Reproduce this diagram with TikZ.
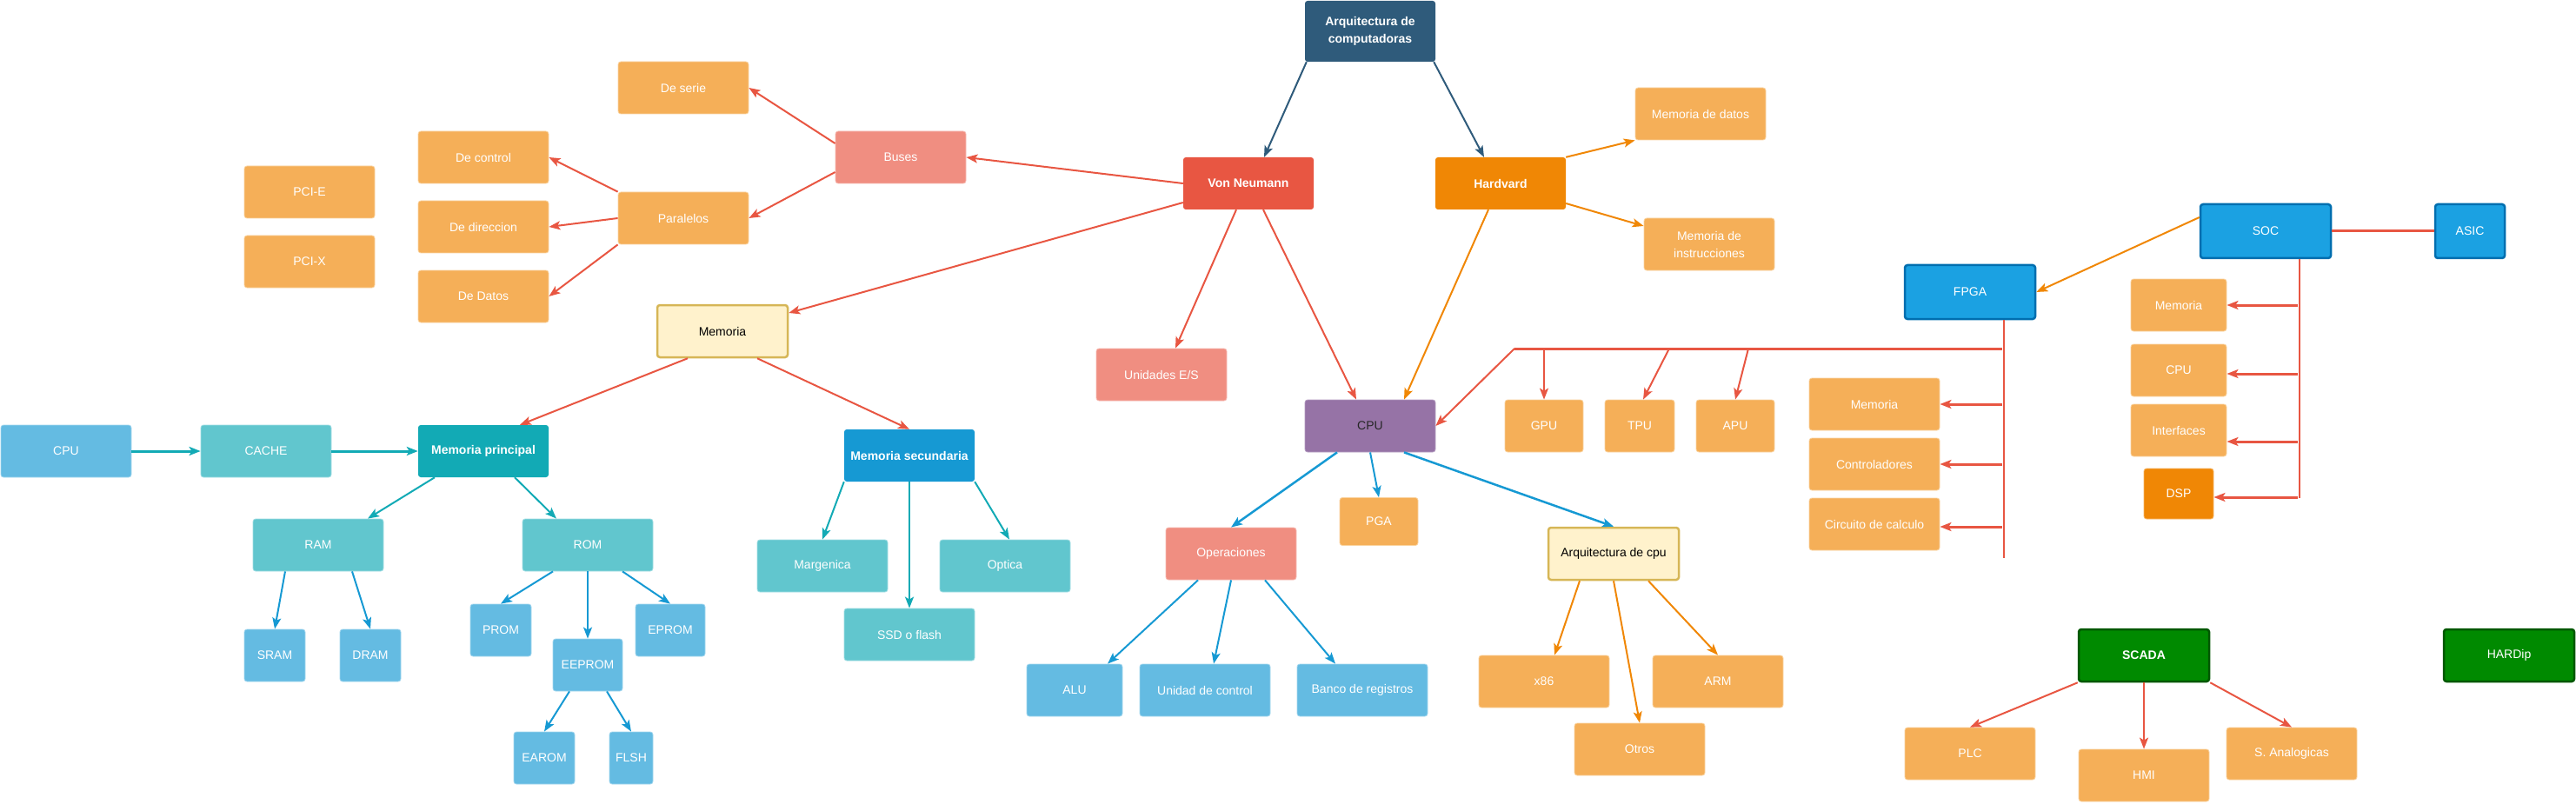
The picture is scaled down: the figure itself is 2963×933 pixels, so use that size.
\documentclass[tikz,border=0pt]{standalone}
\usepackage{fontspec}
\setmainfont{Liberation Sans}
\usetikzlibrary{arrows.meta,calc}
\definecolor{cTop}{HTML}{2F5B7B}
\definecolor{cRed}{HTML}{E85642}
\definecolor{cHv}{HTML}{F08705}
\definecolor{cOr}{HTML}{F5AF58}
\definecolor{cOrL}{HTML}{FAD3A0}
\definecolor{cSal}{HTML}{F08E81}
\definecolor{cPur}{HTML}{9673A6}
\definecolor{cLB}{HTML}{64BBE2}
\definecolor{cTL}{HTML}{61C6CE}
\definecolor{cTD}{HTML}{12AAB5}
\definecolor{cMS}{HTML}{1699D3}
\definecolor{cSoc}{HTML}{1BA1E2}
\definecolor{cSocB}{HTML}{006EAF}
\definecolor{cGr}{HTML}{008A00}
\definecolor{cGrB}{HTML}{005700}
\definecolor{cYel}{HTML}{FFF2CC}
\definecolor{cYelB}{HTML}{D6B656}
\tikzset{
  box/.style={rectangle, rounded corners=3pt, minimum width=150pt, minimum height=60pt,
    inner sep=0pt, font=\fontsize{14pt}{20pt}\selectfont, text=white, align=center},
  orng/.style={box, fill=cOr, draw=cOrL, line width=0.8pt},
  sal/.style={box, fill=cSal, draw=cSal!60!white, line width=0.8pt},
  lblue/.style={box, fill=cLB, draw=cLB!60!white, line width=0.8pt},
  tlight/.style={box, fill=cTL, draw=cTL!60!white, line width=0.8pt},
  yel/.style={box, fill=cYel, draw=cYelB, line width=2.5pt, text=black},
  socs/.style={box, fill=cSoc, draw=cSocB, line width=2.5pt},
  grn/.style={box, fill=cGr, draw=cGrB, line width=2.5pt},
  bld/.style={font=\fontsize{14pt}{20pt}\selectfont\bfseries},
  arr/.style={-{Stealth[length=13pt,width=10pt,inset=3pt]}, line width=2pt},
  red/.style={arr, draw=cRed},
  redt/.style={arr, draw=cRed, line width=3pt},
  org/.style={arr, draw=cHv},
  teal/.style={arr, draw=cTD},
  blu/.style={arr, draw=cMS},
  dblu/.style={arr, draw=cTop},
}
\begin{document}
\begin{tikzpicture}[x=1pt,y=-1pt]
\useasboundingbox (0,0) rectangle (2963,933);
% ---- nodes
\node[box, bld, fill=cTop, minimum height=70pt] (top) at (1576,36) {Arquitectura de\\computadoras};
\node[box, bld, fill=cRed] (vn) at (1436,211) {Von Neumann};
\node[box, bld, fill=cHv] (hv) at (1726,211) {Hardvard};
\node[sal] (buses) at (1036,181) {Buses};
\node[orng] (deserie) at (786,101) {De serie};
\node[orng] (paralelos) at (786,251) {Paralelos};
\node[orng] (decontrol) at (556,181) {De control};
\node[orng] (dedireccion) at (556,261) {De direccion};
\node[orng] (dedatos) at (556,341) {De Datos};
\node[orng] (pcie) at (356,221) {PCI-E};
\node[orng] (pcix) at (356,301) {PCI-X};
\node[yel] (memoria) at (831,381) {Memoria};
\node[lblue] (cpuL) at (76,519) {CPU};
\node[tlight] (cache) at (306,519) {CACHE};
\node[box, bld, fill=cTD] (mp) at (556,519) {Memoria principal};
\node[box, bld, fill=cMS] (ms) at (1046,524) {Memoria secundaria};
\node[tlight] (ram) at (366,627) {RAM};
\node[tlight] (rom) at (676,627) {ROM};
\node[lblue, minimum width=70pt] (sram) at (316,754) {SRAM};
\node[lblue, minimum width=70pt] (dram) at (426,754) {DRAM};
\node[lblue, minimum width=70pt] (prom) at (576,725) {PROM};
\node[lblue, minimum width=80pt] (eprom) at (771,725) {EPROM};
\node[lblue, minimum width=80pt] (eeprom) at (676,765) {EEPROM};
\node[lblue, minimum width=70pt] (earom) at (626,872) {EAROM};
\node[lblue, minimum width=50pt] (flsh) at (726,872) {FLSH};
\node[tlight] (margenica) at (946,651) {Margenica};
\node[tlight] (ssd) at (1046,730) {SSD o flash};
\node[tlight] (optica) at (1156,651) {Optica};
\node[sal] (ues) at (1336,431) {Unidades E/S};
\node[orng] (mdatos) at (1956,131) {Memoria de datos};
\node[orng] (minst) at (1966,281) {Memoria de\\instrucciones};
\node[box, fill=cPur, draw=cPur!70!white, line width=0.8pt, text=black!85] (cpu) at (1576,490) {CPU};
\node[orng, minimum width=90pt] (gpu) at (1776,490) {GPU};
\node[orng, minimum width=80pt] (tpu) at (1886,490) {TPU};
\node[orng, minimum width=90pt] (apu) at (1996,490) {APU};
\node[orng, minimum width=90pt, minimum height=55pt] (pga) at (1586,600) {PGA};
\node[sal] (oper) at (1416,637) {Operaciones};
\node[yel] (arqcpu) at (1856,637) {Arquitectura de cpu};
\node[lblue, minimum width=110pt] (alu) at (1236,794) {ALU};
\node[lblue] (udc) at (1386,794) {Unidad de control};
\node[lblue] (banco) at (1567,794) {Banco de registros};
\node[orng] (x86) at (1776,784) {x86};
\node[orng] (arm) at (1976,784) {ARM};
\node[orng] (otros) at (1886,862) {Otros};
\node[socs, minimum height=62pt] (soc) at (2606,266) {SOC};
\node[socs, minimum width=80pt, minimum height=62pt] (asic) at (2841,266) {ASIC};
\node[socs, minimum height=62pt] (fpga) at (2266,336) {FPGA};
\node[orng, minimum width=110pt] (memS) at (2506,351) {Memoria};
\node[orng, minimum width=110pt] (cpuS) at (2506,426) {CPU};
\node[orng, minimum width=110pt] (intf) at (2506,495) {Interfaces};
\node[box, fill=cHv, draw=cHv!60!white, line width=0.8pt, minimum width=80pt, minimum height=58pt] (dsp) at (2506,568) {DSP};
\node[orng] (memF) at (2156,465) {Memoria};
\node[orng] (ctrl) at (2156,534) {Controladores};
\node[orng] (circ) at (2156,603) {Circuito de calculo};
\node[grn, bld] (scada) at (2466,754) {SCADA};
\node[grn] (hardip) at (2886,754) {HARDip};
\node[orng] (plc) at (2266,867) {PLC};
\node[orng] (hmi) at (2466,892) {HMI};
\node[orng] (sanal) at (2636,867) {S. Analogicas};
% ---- helper coordinates
\coordinate (b1) at (1742,401);
\coordinate (b2) at (2303,401);
\coordinate (g1) at (1776,401);
\coordinate (t1) at (1920,401);
\coordinate (a1) at (2011,401);
\coordinate (fv) at (2305,642);
\coordinate (f1) at (2303,465);
\coordinate (f2) at (2303,534);
\coordinate (f3) at (2303,606);
\coordinate (sv) at (2645,573);
\coordinate (s1) at (2643,351);
\coordinate (s2) at (2643,430);
\coordinate (s3) at (2643,508);
\coordinate (s4) at (2643,572);
% ---- connectors
\draw[dblu] ([xshift=2pt]top.south west) -- ([xshift=18pt]vn.north);
\draw[dblu] ([xshift=-2pt]top.south east) -- ([xshift=-19pt]hv.north);
\draw[red] (vn.west) -- (buses.east);
\draw[red] ([yshift=-22pt]vn.west) -- ([yshift=21pt]memoria.east);
\draw[red] ([xshift=-14pt]vn.south) -- ([xshift=16pt]ues.north);
\draw[red] ([xshift=17pt]vn.south) -- ([xshift=-16pt]cpu.north);
\draw[org] ([xshift=-14pt]hv.south) -- ([xshift=39pt]cpu.north);
\draw[org] (hv.north east) -- (mdatos.south west);
\draw[org] ([yshift=-23pt]hv.east) -- ([yshift=21pt]minst.west);
\draw[red] ([yshift=16pt]buses.west) -- (deserie.east);
\draw[red] ([yshift=-17pt]buses.west) -- (paralelos.east);
\draw[red] (paralelos.north west) -- (decontrol.east);
\draw[red] (paralelos.west) -- (dedireccion.east);
\draw[red] (paralelos.south west) -- (dedatos.east);
\draw[red] ([xshift=-40pt]memoria.south) -- ([xshift=42pt]mp.north);
\draw[red] ([xshift=40pt]memoria.south) -- (ms.north);
\draw[teal, line width=3pt] (cpuL.east) -- (cache.west);
\draw[teal, line width=3pt] (cache.east) -- (mp.west);
\draw[teal] ([xshift=-56pt]mp.south) -- ([xshift=57pt]ram.north);
\draw[teal] ([xshift=36pt]mp.south) -- ([xshift=-36pt]rom.north);
\draw[blu] ([xshift=-38pt]ram.south) -- (sram.north);
\draw[blu] ([xshift=39pt]ram.south) -- (dram.north);
\draw[blu] ([xshift=-40pt]rom.south) -- (prom.north);
\draw[blu] (rom.south) -- (eeprom.north);
\draw[blu] ([xshift=40pt]rom.south) -- (eprom.north);
\draw[blu] ([xshift=-21pt]eeprom.south) -- (earom.north);
\draw[blu] ([xshift=22pt]eeprom.south) -- (flsh.north);
\draw[teal] (ms.south west) -- (margenica.north);
\draw[teal] (ms.south) -- (ssd.north);
\draw[teal] (ms.south east) -- ([xshift=5pt]optica.north);
\draw[blu, line width=2.5pt] ([xshift=-38pt]cpu.south) -- (oper.north);
\draw[blu] (cpu.south) -- (pga.north);
\draw[blu, line width=2.5pt] ([xshift=39pt]cpu.south) -- (arqcpu.north);
\draw[blu] ([xshift=-38pt]oper.south) -- ([xshift=38pt]alu.north);
\draw[blu] (oper.south) -- ([xshift=10pt]udc.north);
\draw[blu] ([xshift=39pt]oper.south) -- ([xshift=-31pt]banco.north);
\draw[org] ([xshift=-39pt]arqcpu.south) -- ([xshift=12pt]x86.north);
\draw[org] (arqcpu.south) -- (otros.north);
\draw[org] ([xshift=40pt]arqcpu.south) -- (arm.north);
% bus to CPU family
\draw[cRed, line width=3pt] (b1) -- (b2);
\draw[red] (b1) -- (cpu.east);
\draw[red] (g1) -- (gpu.north);
\draw[red] (t1) -- ([xshift=4pt]tpu.north);
\draw[red] (a1) -- (apu.north);
% FPGA
\draw[org] ([yshift=16pt]soc.west) -- (fpga.east);
\draw[cRed, line width=2pt] ([xshift=39pt]fpga.south) -- (fv);
\draw[redt] (f1) -- (memF.east);
\draw[redt] (f2) -- (ctrl.east);
\draw[redt] (f3) -- ([yshift=-3pt]circ.east);
% SOC
\draw[cRed, line width=3pt] (soc.east) -- (asic.west);
\draw[cRed, line width=2pt] ([xshift=39pt]soc.south) -- (sv);
\draw[redt] (s1) -- (memS.east);
\draw[redt] (s2) -- ([yshift=-4pt]cpuS.east);
\draw[redt] (s3) -- ([yshift=-13pt]intf.east);
\draw[redt] (s4) -- ([yshift=-4pt]dsp.east);
% SCADA
\draw[red] (scada.south west) -- (plc.north);
\draw[red] (scada.south) -- (hmi.north);
\draw[red] (scada.south east) -- (sanal.north);
\end{tikzpicture}
\end{document}
